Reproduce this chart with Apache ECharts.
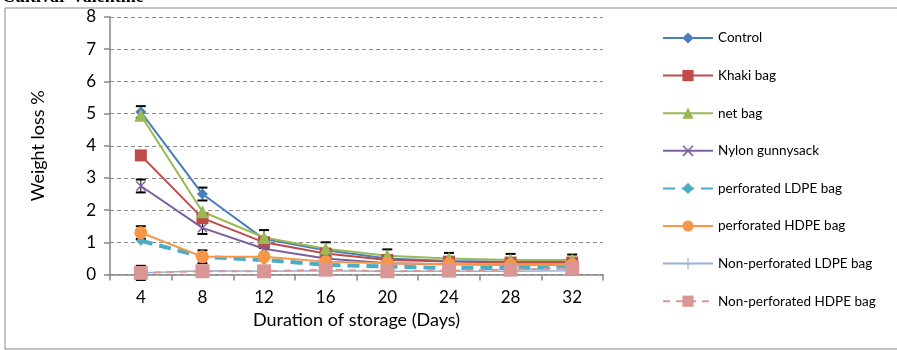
<!DOCTYPE html>
<html><head><meta charset="utf-8">
<script src="https://cdn.jsdelivr.net/npm/echarts@6/dist/echarts.min.js"></script>
<style>html,body{margin:0;padding:0;background:#fff}#c{width:897px;height:350px}</style>
</head><body><div id="c"></div>
<script>
const days = ['4','8','12','16','20','24','28','32'];
const control = [5.05,2.5,1.1,0.75,0.5,0.42,0.4,0.4];
const khaki = [3.7,1.75,1.0,0.65,0.45,0.4,0.37,0.37];
const netBag = [4.95,1.95,1.15,0.8,0.58,0.5,0.45,0.45];
const nylon = [2.75,1.45,0.8,0.5,0.35,0.32,0.3,0.3];
const perfLDPE = [1.05,0.55,0.45,0.3,0.25,0.2,0.2,0.22];
const perfHDPE = [1.3,0.55,0.55,0.4,0.35,0.32,0.3,0.3];
const nonPerfLDPE = [0.05,0.12,0.1,0.12,0.1,0.1,0.1,0.12];
const nonPerfHDPE = [0.05,0.1,0.1,0.15,0.1,0.12,0.15,0.2];
const controlErr = [0.18,0.2,0.28,0.25,0.28,0.25,0.24,0.22];
const nylonErr = [0.2,0.19,0,0,0,0,0,0];
const hdpeErr = [0.2,0.2,0,0,0,0,0,0];
const nonHdpeErr = [0.22,0,0,0,0,0,0,0];

const FONT = 'Lato, "Open Sans", sans-serif';
const chart = echarts.init(document.getElementById('c'));

function errSeries(vals, errs){
  const d = [];
  vals.forEach((v,i)=>{ if(errs[i]>0) d.push([i, v, errs[i]]); });
  return {
    type:'custom', z:1, silent:true, legendHoverLink:false,
    data:d,
    renderItem(params, api){
      const i = api.value(0), v = api.value(1), e = api.value(2);
      const top = api.coord([i, v+e]), bot = api.coord([i, v-e]);
      const x = top[0], w = 5;
      return {type:'group', children:[
        {type:'line', shape:{x1:x,y1:top[1],x2:x,y2:bot[1]}, style:{stroke:'#000',lineWidth:1}},
        {type:'line', shape:{x1:x-w,y1:top[1],x2:x+w,y2:top[1]}, style:{stroke:'#000',lineWidth:2}},
        {type:'line', shape:{x1:x-w,y1:bot[1],x2:x+w,y2:bot[1]}, style:{stroke:'#000',lineWidth:2}}
      ]};
    }
  };
}

const X_PATH = 'path://M0,1L1,0L5,4L9,0L10,1L6,5L10,9L9,10L5,6L1,10L0,9L4,5Z';
const PLUS_PATH = 'path://M4.5,0L5.5,0L5.5,4.5L10,4.5L10,5.5L5.5,5.5L5.5,10L4.5,10L4.5,5.5L0,5.5L0,4.5L4.5,4.5Z';

function ln(name, data, color, symbol, size, lineStyle){
  return {
    name, type:'line', data, symbol, symbolSize:size, showAllSymbol:true, z:2,
    itemStyle:{color, borderWidth:0},
    lineStyle:Object.assign({color, width:2}, lineStyle||{}),
    emphasis:{disabled:true}
  };
}

chart.setOption({
  animation:false,
  textStyle:{fontFamily:FONT},
  graphic:[
    {type:'rect', shape:{x:5,y:8,width:900,height:341}, style:{fill:'none', stroke:'#888', lineWidth:1}, z:-1},
    {type:'text', x:2, y:-12, style:{text:'Cultivar Valentine', font:'bold 18px "Liberation Serif", serif', fill:'#000'}}
  ],
  legend:{
    orient:'vertical', left:657, top:26, itemWidth:50, itemHeight:14, itemGap:23.6,
    textStyle:{fontSize:13.5, color:'#000', fontFamily:FONT},
    data:['Control','Khaki bag','net bag','Nylon gunnysack','perforated LDPE bag','perforated HDPE bag','Non-perforated LDPE bag','Non-perforated HDPE bag']
  },
  grid:{left:110, right:294, top:17, bottom:75.5},
  xAxis:{
    type:'category', data:days, boundaryGap:true,
    name:'Duration of storage (Days)', nameLocation:'middle', nameGap:36,
    nameTextStyle:{fontSize:18, color:'#000', fontFamily:FONT},
    axisLine:{lineStyle:{color:'#868686', width:1.5}},
    axisTick:{show:true, length:6, lineStyle:{color:'#868686', width:1.5}},
    axisLabel:{fontSize:17, color:'#000', margin:15, fontFamily:FONT}
  },
  yAxis:{
    type:'value', min:0, max:8, interval:1,
    name:'Weight loss %', nameLocation:'middle', nameGap:63, nameRotate:90,
    nameTextStyle:{fontSize:18, color:'#000', fontFamily:FONT},
    axisLine:{show:true, lineStyle:{color:'#868686', width:1.5}},
    axisTick:{show:true, length:6, lineStyle:{color:'#868686', width:1.5}},
    axisLabel:{fontSize:17, color:'#000', margin:14, fontFamily:FONT},
    splitLine:{show:true, lineStyle:{color:'#8c8c8c', type:[4,3], width:1}}
  },
  series:[
    errSeries(control, controlErr),
    errSeries(nylon, nylonErr),
    errSeries(perfHDPE, hdpeErr),
    errSeries(nonPerfHDPE, nonHdpeErr),
    ln('Control', control, '#4A7EBB', 'diamond', 11),
    ln('Khaki bag', khaki, '#BE4B48', 'rect', 12),
    ln('net bag', netBag, '#98B954', 'triangle', 13),
    ln('Nylon gunnysack', nylon, '#7D60A0', X_PATH, 10),
    ln('perforated LDPE bag', perfLDPE, '#4BACC6', 'diamond', 10, {width:4, type:[12,7]}),
    ln('perforated HDPE bag', perfHDPE, '#F79646', 'circle', 13),
    ln('Non-perforated LDPE bag', nonPerfLDPE, '#95B3D7', PLUS_PATH, 10, {width:1.5}),
    ln('Non-perforated HDPE bag', nonPerfHDPE, '#D99694', 'rect', 14, {width:2, type:[7,6]})
  ]
});
</script></body></html>
